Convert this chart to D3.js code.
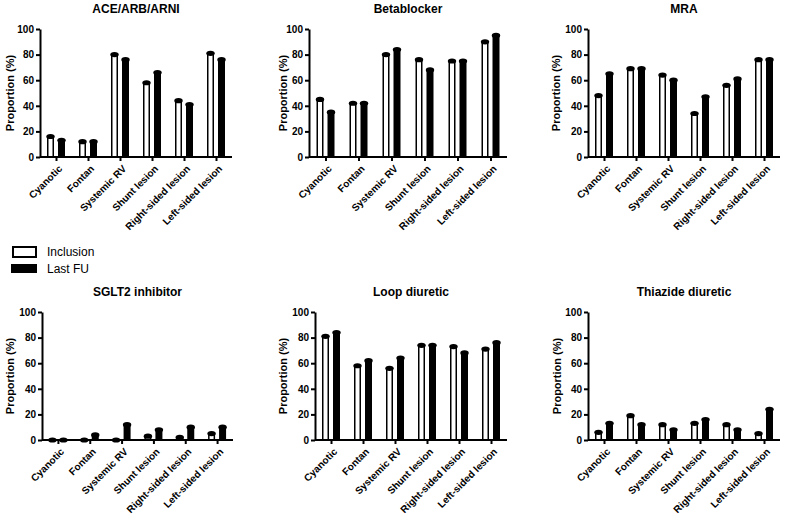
<!DOCTYPE html>
<html><head><meta charset="utf-8">
<script src="https://cdn.jsdelivr.net/npm/d3@7"></script>
<style>body{margin:0;background:#fff}svg{display:block}</style>
</head><body>
<svg id="c" width="789" height="522"></svg>
<script>
const categories = ["Cyanotic","Fontan","Systemic RV","Shunt lesion","Right-sided lesion","Left-sided lesion"];
const seriesNames = ["Inclusion","Last FU"];
const yTicks = [0,20,40,60,80,100];
const titles = ["ACE/ARB/ARNI","Betablocker","MRA","SGLT2 inhibitor","Loop diuretic","Thiazide diuretic"];
const aceInclusion = [16,12,80,58,44,81];
const aceLastFU    = [13,12,76,66,41,76];
const betaInclusion = [45,42,80,76,75,90];
const betaLastFU    = [35,42,84,68,75,95];
const mraInclusion = [48,69,64,34,56,76];
const mraLastFU    = [65,69,60,47,61,76];
const sglt2Inclusion = [0,0,0,3,2,5];
const sglt2LastFU    = [0,4,12,8,10,10];
const loopInclusion = [81,58,56,74,73,71];
const loopLastFU    = [84,62,64,74,68,76];
const thiazideInclusion = [6,19,12,13,12,5];
const thiazideLastFU    = [13,12,8,16,8,24];

const panelData = [
  [aceInclusion, aceLastFU],[betaInclusion, betaLastFU],[mraInclusion, mraLastFU],
  [sglt2Inclusion, sglt2LastFU],[loopInclusion, loopLastFU],[thiazideInclusion, thiazideLastFU]
];
// layout: axis left x, axis right x, y of 100, y of 0, y-label centre x
const layout = [
  {l:40, r:232, t:29, b:157, lx:10},
  {l:309, r:507, t:29, b:157, lx:283},
  {l:588, r:780, t:29, b:157, lx:556},
  {l:42, r:233, t:312, b:440, lx:10},
  {l:315, r:507, t:312, b:440, lx:283},
  {l:588, r:780, t:312, b:440, lx:557}
];
const font = "'Liberation Sans', Arial, sans-serif";
const svg = d3.select("#c");

panelData.forEach((vals, pi) => {
  const L = layout[pi];
  const g = svg.append("g");
  const x = d3.scalePoint().domain(categories).range([L.l, L.r]).padding(0.5);
  const y = d3.scaleLinear().domain([0,100]).range([L.b, L.t]);
  const bw = 7, off = 5.5;

  vals.forEach((arr, si) => {
    const dx = si === 0 ? -off : off;
    const rows = arr.map((v,i)=>({c:categories[i], v}));
    g.selectAll(null).data(rows).enter()
      .append("rect")
      .attr("x", d => x(d.c) + dx - bw/2 + (si===0?0.75:0))
      .attr("y", d => y(d.v))
      .attr("width", si===0 ? bw-1.5 : bw)
      .attr("height", d => Math.max(0, y(0) - y(d.v)))
      .attr("fill", si === 0 ? "#fff" : "#000")
      .attr("stroke", "#000")
      .attr("stroke-width", si === 0 ? 1.5 : 0);
    g.selectAll(null).data(rows).enter()
      .append("ellipse")
      .attr("cx", d => x(d.c) + dx)
      .attr("cy", d => y(d.v))
      .attr("rx", 4.2).attr("ry", 2.6)
      .attr("fill", "#000");
  });

  const ya = g.append("g").attr("transform", `translate(${L.l},0)`)
    .call(d3.axisLeft(y).tickValues(yTicks).tickSize(4).tickPadding(2).tickSizeOuter(0));
  ya.select(".domain").attr("stroke-width", 2);
  ya.selectAll(".tick line").attr("stroke-width", 2);
  ya.selectAll("text").attr("font-family", font).attr("font-weight", "bold").attr("font-size", 10).attr("fill","#000");

  const xa = g.append("g").attr("transform", `translate(0,${L.b})`)
    .call(d3.axisBottom(x).tickSize(4).tickSizeOuter(0).tickPadding(2));
  xa.select(".domain").remove();
  xa.append("line").attr("x1", L.l).attr("x2", L.r).attr("stroke","#000").attr("stroke-width",2);
  xa.selectAll(".tick line").attr("stroke-width", 2);
  xa.selectAll("text").attr("font-family", font).attr("font-weight", "bold").attr("font-size", 10)
    .attr("fill","#000")
    .attr("text-anchor","end").attr("dy","0.3em")
    .attr("transform","translate(0,6) rotate(-45)");

  g.append("text").attr("x", (L.l + L.r)/2).attr("y", L.t - 16)
    .attr("text-anchor","middle").attr("font-family", font).attr("font-weight","bold")
    .attr("font-size", 12).text(titles[pi]);
  g.append("text").attr("transform", `translate(${L.lx},${(L.t+L.b)/2}) rotate(-90)`)
    .attr("text-anchor","middle").attr("dy","0.35em").attr("font-family", font).attr("font-weight","bold")
    .attr("font-size", 11).text("Proportion (%)");
});

const lg = svg.append("g");
seriesNames.forEach((n, i) => {
  const yy = 252 + i*17;
  lg.append("rect").attr("x", i===0?13:11).attr("y", yy-5)
    .attr("width", i===0?23:26).attr("height", i===0?10:9)
    .attr("fill", i===0?"#fff":"#000").attr("stroke","#000").attr("stroke-width", i===0?2:0);
  lg.append("text").attr("x", 47).attr("y", yy).attr("dy","0.35em")
    .attr("font-family", font).attr("font-size", 12).text(n);
});
</script>
</body></html>
